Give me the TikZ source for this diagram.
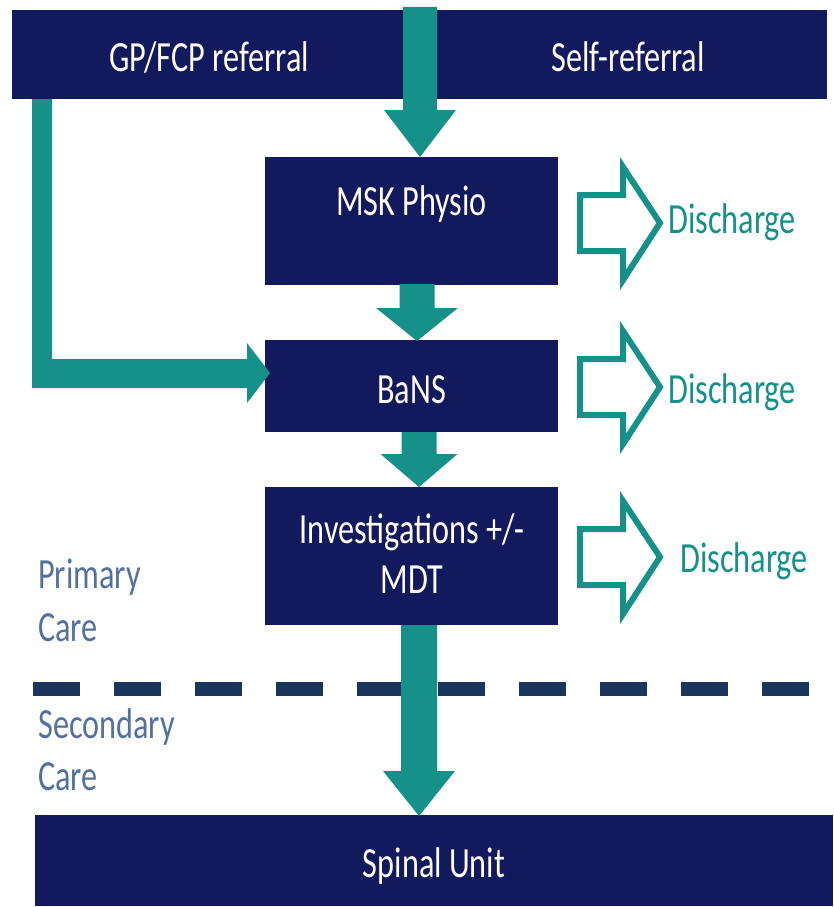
\documentclass[tikz,border=0pt]{standalone}
\usepackage{fontspec}
\setmainfont[FakeStretch=0.75]{Carlito}
\usetikzlibrary{calc}
\definecolor{navy}{HTML}{13195D}
\definecolor{tealc}{HTML}{15918A}
\definecolor{dashc}{HTML}{1B365D}
\definecolor{carec}{HTML}{5270A0}
\newcommand\blockdown[5]{% tip, total length, head length, shaft half, head half
  \fill[tealc] ($#1+(-#4,-#2)$) -- ($#1+(#4,-#2)$) -- ($#1+(#4,-#3)$) -- ($#1+(#5,-#3)$)
    -- #1 -- ($#1+(-#5,-#3)$) -- ($#1+(-#4,-#3)$) -- cycle;}
\newcommand\hollowright[1]{% tip point
  \draw[hollow] ($#1+(-80,-28)$) -- ($#1+(-37,-28)$) -- ($#1+(-37,-56)$) -- #1
    -- ($#1+(-37,57)$) -- ($#1+(-37,28)$) -- ($#1+(-80,28)$) -- cycle;}
\tikzset{
  box/.style={fill=navy, draw=none, inner sep=0pt, outer sep=0pt},
  boxtext/.style={text=white, anchor=base, inner sep=0pt, font=\fontsize{43}{50}\selectfont},
  distext/.style={text=tealc, anchor=base west, inner sep=0pt, font=\fontsize{43}{50}\selectfont},
  caretext/.style={text=carec, anchor=base west, inner sep=0pt, font=\fontsize{43}{50}\selectfont},
  hollow/.style={draw=tealc, line width=6pt, miter limit=10, fill=white},
  dashline/.style={draw=dashc, line width=14pt, dash pattern=on 47pt off 34pt},
}
\begin{document}
\begin{tikzpicture}[x=1pt, y=-1pt]
\useasboundingbox (0,0) rectangle (833,907);
% boxes
\node[box, minimum width=815pt, minimum height=89pt] (top) at (419.5,54.5) {};
\node[box, minimum width=293pt, minimum height=128pt] (msk) at (411.5,221) {};
\node[box, minimum width=293pt, minimum height=92pt] (bans) at (411.5,386) {};
\node[box, minimum width=293pt, minimum height=138pt] (inv) at (411.5,556) {};
\node[box, minimum width=798pt, minimum height=91pt] (spinal) at (434,860.5) {};
% texts in boxes
\node[boxtext] (tgp) at (209,71) {GP/FCP referral};
\node[boxtext] (tself) at (628,71) {Self-referral};
\node[boxtext] (tmsk) at (411.5,215) {MSK Physio};
\node[boxtext] (tbans) at (411.5,403) {BaNS};
\node[boxtext] (tinv) at (412,543) {Investigations +/-};
\node[boxtext] (tmdt) at (412,593) {MDT};
\node[boxtext] (tspinal) at (434,877) {Spinal Unit};
% care labels
\node[caretext] (pc1) at (38,588) {Primary};
\node[caretext] (pc2) at (38,641) {Care};
\node[caretext] (sc1) at (38,738) {Secondary};
\node[caretext] (sc2) at (38,790) {Care};
% dashed boundary
\coordinate (dl) at (33,689);
\coordinate (dr) at (812,689);
\draw[dashline] (dl) -- (dr);
% tips of the down arrows
\coordinate (t1) at ($(msk.north)+(8.5,0)$);
\coordinate (t2) at ($(bans.north)+(5.5,1)$);
\coordinate (t3) at ($(inv.north)+(7.5,0)$);
\coordinate (t4) at ($(spinal.north)+(-15,1)$);
\blockdown{(t1)}{150}{47}{17}{36}
\blockdown{(t2)}{57}{33}{17.5}{41}
\blockdown{(t3)}{55}{33}{17.5}{38.5}
\blockdown{(t4)}{191}{45}{18}{36}
% L-shaped arrow from GP/FCP referral to BaNS
\coordinate (lt) at ($(bans.west)+(5,-13)$);
\fill[tealc] ($(top.south west)+(20,0)$) -- ($(top.south west)+(40,0)$) -- ($(lt)+(-218,-14)$)
  -- ($(lt)+(-23,-14)$) -- ($(lt)+(-23,-30)$) -- (lt) -- ($(lt)+(-23,30)$) -- ($(lt)+(-23,15)$)
  -- ($(lt)+(-238,15)$) -- cycle;
% discharge arrows
\coordinate (d1) at (660,223);
\coordinate (d2) at (660,387);
\coordinate (d3) at (660,557);
\hollowright{(d1)}
\hollowright{(d2)}
\hollowright{(d3)}
\node[distext] (dis1) at ($(d1)+(8,10)$) {Discharge};
\node[distext] (dis2) at ($(d2)+(8,16)$) {Discharge};
\node[distext] (dis3) at ($(d3)+(20,15)$) {Discharge};
\end{tikzpicture}
\end{document}
